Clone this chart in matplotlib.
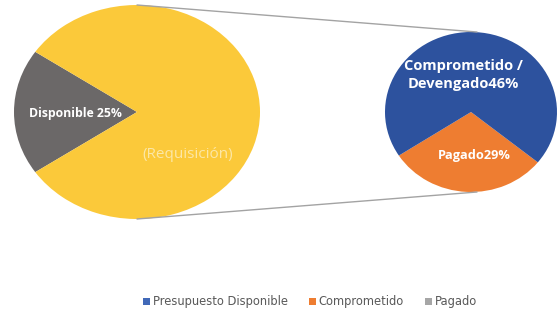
import matplotlib
matplotlib.use("Agg")
import matplotlib.pyplot as plt
from matplotlib.patches import Patch, ConnectionPatch

plt.rcParams['font.family'] = ['Open Sans', 'DejaVu Sans']

# main pie: gray slice (Disponible) and the rest (Requisición)
main_values = [19, 81]
main_colors = ['#6B6868', '#FBC93A']
main_labels = ['Disponible 25%', '(Requisición)']

# sub pie: split of the Requisición part
sub_values = [30, 70]
sub_colors = ['#EE7D31', '#2D529E']
sub_labels = ['Pagado29%', 'Comprometido /\nDevengado46%']

legend_labels = ['Presupuesto Disponible', 'Comprometido', 'Pagado']
legend_colors = ['#4169B8', '#EE7D31', '#A6A6A6']

W, H = 559, 313
fig = plt.figure(figsize=(W / 100, H / 100), dpi=100)


def px_axes(x0, y0, x1, y1):
    # axes from pixel box (top-left origin)
    return fig.add_axes([x0 / W, 1 - y1 / H, (x1 - x0) / W, (y1 - y0) / H])


ax1 = px_axes(14, 5, 260, 219)
ax1.pie(main_values, colors=main_colors, startangle=180 - main_values[0] * 1.8,
        counterclock=True, wedgeprops=dict(linewidth=0))
ax1.set_aspect('auto')
ax1.set_xlim(-1, 1)
ax1.set_ylim(-1, 1)

ax2 = px_axes(385, 32, 557, 192)
ax2.pie(sub_values, colors=sub_colors, startangle=267 - sub_values[0] * 1.8,
        counterclock=True, wedgeprops=dict(linewidth=0))
ax2.set_aspect('auto')
ax2.set_xlim(-1, 1)
ax2.set_ylim(-1, 1)

# connector lines between the two pies
for y in (1, -1):
    con = ConnectionPatch(xyA=(0, y), coordsA=ax1.transData,
                          xyB=(0.07, y), coordsB=ax2.transData,
                          color='#A3A3A3', lw=1.0)
    fig.add_artist(con)

fig.text(75 / W, 1 - 113 / H, main_labels[0], color='white', fontsize=8.8,
         fontweight='bold', ha='center', va='center')
fig.text(188 / W, 1 - 155 / H, main_labels[1], color='#FCE7A6', fontsize=11,
         ha='center', va='center')
fig.text(463 / W, 1 - 75 / H, sub_labels[1], color='white', fontsize=10.5,
         fontweight='bold', ha='center', va='center', linespacing=1.35)
fig.text(474 / W, 1 - 155 / H, sub_labels[0], color='white', fontsize=9.2,
         fontweight='bold', ha='center', va='center')

handles = [Patch(facecolor=c, edgecolor='none') for c in legend_colors]
fig.legend(handles, legend_labels, loc='center', bbox_to_anchor=(310 / W, 1 - 302 / H),
           ncol=3, frameon=False, prop={'family': 'DejaVu Sans', 'size': 8.3},
           labelcolor='#595959', handlelength=0.6, handleheight=0.6,
           handletextpad=0.25, columnspacing=1.8)

fig.savefig('out.png', dpi=100)
